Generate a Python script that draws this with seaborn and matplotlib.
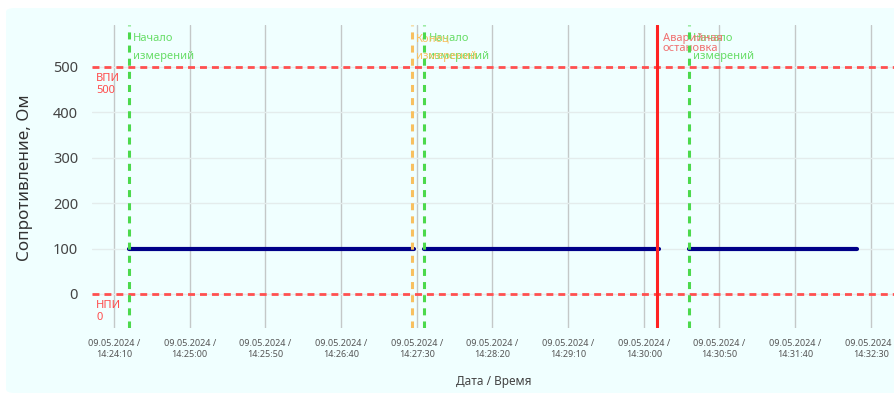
import pandas as pd
import numpy as np
import matplotlib
matplotlib.use("Agg")
import matplotlib.pyplot as plt
from matplotlib.patches import FancyBboxPatch
import seaborn as sns

# measured data: three runs, resistance stays at 100 Ohm
seg_ids = [1, 1, 2, 2, 3, 3]
seg_times = ["2024-05-09 14:24:20", "2024-05-09 14:27:28",
             "2024-05-09 14:27:35", "2024-05-09 14:30:10",
             "2024-05-09 14:30:30", "2024-05-09 14:32:21"]
seg_values = [100, 100, 100, 100, 100, 100]

# events
start_times = ["2024-05-09 14:24:20", "2024-05-09 14:27:35", "2024-05-09 14:30:30"]
end_times = ["2024-05-09 14:27:27"]
alarm_times = ["2024-05-09 14:30:09"]

# limits
upper_limit = 500
lower_limit = 0

tick_times = ["2024-05-09 14:24:10", "2024-05-09 14:25:00", "2024-05-09 14:25:50",
              "2024-05-09 14:26:40", "2024-05-09 14:27:30", "2024-05-09 14:28:20",
              "2024-05-09 14:29:10", "2024-05-09 14:30:00", "2024-05-09 14:30:50",
              "2024-05-09 14:31:40", "2024-05-09 14:32:30"]
tick_labels = ["09.05.2024 /\n14:24:10", "09.05.2024 /\n14:25:00", "09.05.2024 /\n14:25:50",
               "09.05.2024 /\n14:26:40", "09.05.2024 /\n14:27:30", "09.05.2024 /\n14:28:20",
               "09.05.2024 /\n14:29:10", "09.05.2024 /\n14:30:00", "09.05.2024 /\n14:30:50",
               "09.05.2024 /\n14:31:40", "09.05.2024 /\n14:32:30"]

sns.set_theme(style="white")
plt.rcParams['font.family'] = ['Noto Sans', 'DejaVu Sans']

df = pd.DataFrame({"time": pd.to_datetime(seg_times), "value": seg_values, "seg": seg_ids})

fig = plt.figure(figsize=(8.95, 3.93), dpi=100, facecolor="white")
bg = FancyBboxPatch((6 / 895, 0), 1, 1 - 8 / 393, boxstyle="round,pad=0,rounding_size=0.01",
                    transform=fig.transFigure, facecolor="#F0FFFF", edgecolor="none", zorder=-5)
fig.patches.append(bg)

ax = fig.add_axes([92 / 895, 1 - 328 / 393, 1 - 92 / 895, 303 / 393])
ax.set_facecolor("#F0FFFF")
for s in ax.spines.values():
    s.set_visible(False)

# grid
ax.set_yticks([0, 100, 200, 300, 400, 500])
ax.yaxis.grid(True, color="#E4ECEC", lw=1)
ax.set_xticks(pd.to_datetime(tick_times))
ax.set_xticklabels(tick_labels)
ax.xaxis.grid(True, color="#C4C8C8", lw=1)
ax.set_axisbelow(True)

sns.lineplot(data=df, x="time", y="value", units="seg", estimator=None,
             color="#000088", lw=3.0, ax=ax, solid_capstyle="round", zorder=3)

# limit lines
for lim, name in [(upper_limit, "ВПИ"), (lower_limit, "НПИ")]:
    ax.axhline(lim, color="#FF5050", lw=2, ls=(0, (2.5, 1.8)), zorder=4)
    ax.annotate(name, xy=(0, lim), xycoords=("axes fraction", "data"), xytext=(3, -8.6),
                textcoords="offset points", color="#FF4D4D", fontsize=8, va="center")
    ax.annotate(str(lim), xy=(0, lim), xycoords=("axes fraction", "data"), xytext=(3, -17.3),
                textcoords="offset points", color="#FF4D4D", fontsize=8, va="center")

# event lines
for t in pd.to_datetime(start_times):
    ax.axvline(t, color="#4CD94C", lw=2.2, ls=(0, (2.3, 2.0)), zorder=5)
    ax.annotate("Начало", xy=(t, 562), xytext=(3, 0), textcoords="offset points",
                color="#66DD66", fontsize=8, va="center")
    ax.annotate("измерений", xy=(t, 522), xytext=(3, 0), textcoords="offset points",
                color="#66DD66", fontsize=8, va="center")
for t in pd.to_datetime(end_times):
    ax.axvline(t, color="#F8C060", lw=2.2, ls=(0, (2.3, 2.0)), zorder=5)
    ax.annotate("Конец", xy=(t, 562), xytext=(3, 0), textcoords="offset points",
                color="#F8C060", fontsize=8, va="center")
    ax.annotate("измерений", xy=(t, 522), xytext=(3, 0), textcoords="offset points",
                color="#F8C060", fontsize=8, va="center")
for t in pd.to_datetime(alarm_times):
    ax.axvline(t, color="#FF2222", lw=2.2, zorder=5)
    ax.annotate("Аварийная", xy=(t, 562), xytext=(4, 0), textcoords="offset points",
                color="#F07070", fontsize=8, va="center")
    ax.annotate("остановка", xy=(t, 541), xytext=(4, 0), textcoords="offset points",
                color="#F07070", fontsize=8, va="center")

ax.set_xlim(pd.Timestamp("2024-05-09 14:23:55.5"), pd.Timestamp("2024-05-09 14:32:46"))
ax.set_ylim(-75, 592)

ax.tick_params(axis="x", labelsize=6.5, colors="#555555", pad=8, length=0)
ax.tick_params(axis="y", labelsize=10.5, colors="#444444", pad=10, length=0)
ax.set_xlabel("Дата / Время", fontsize=8.5, color="#444444", labelpad=12)
ax.set_ylabel("")
fig.text(25 / 895, 1 - 178 / 393, "Сопротивление, Ом", rotation=90, ha="center", va="center",
         fontsize=12.3, color="#333333")

fig.savefig("out.png", dpi=100, facecolor="white")
